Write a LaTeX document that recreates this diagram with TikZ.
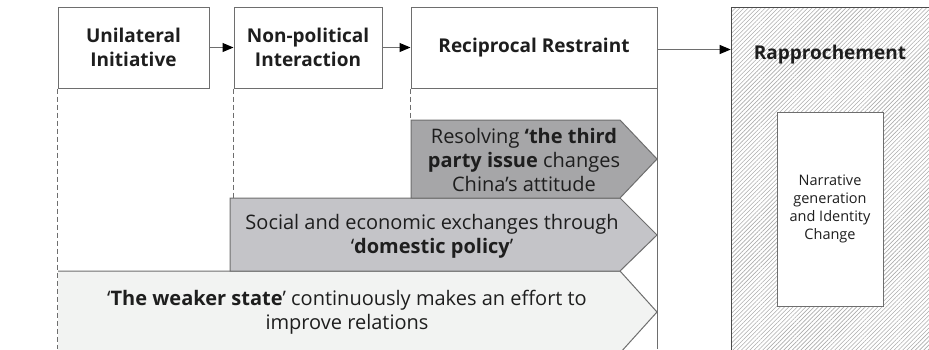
\documentclass[tikz,border=0pt]{standalone}
\usepackage{fontspec}
\setmainfont{Open Sans}
\usetikzlibrary{arrows.meta,patterns.meta}
\definecolor{thirdfill}{RGB}{166,166,168}
\definecolor{domesticfill}{RGB}{196,196,200}
\definecolor{weakerfill}{RGB}{242,243,242}
\definecolor{edge}{RGB}{110,110,110}
\definecolor{ink}{RGB}{30,30,30}

\begin{document}
\begin{tikzpicture}[x=1pt, y=-1pt, line width=1pt, text=ink,
  stage/.style={draw=edge, fill=white, minimum height=81pt, inner sep=0pt,
    align=center, font=\fontsize{19}{24}\selectfont\bfseries},
  phase/.style={draw=edge, line width=1pt},
  phasetext/.style={align=center, font=\fontsize{20}{24}\selectfont},
  flow/.style={edge, -{Triangle[length=11pt,width=9pt,color=black]}},
  guide/.style={edge, line width=0.8pt, dash pattern=on 5pt off 3pt}]
  \useasboundingbox (0,0) rectangle (929,349);
  \clip (0,0) rectangle (929,349);

  \node[stage, minimum width=151pt] (uni) at (133.5,47.5) {Unilateral\\Initiative};
  \node[stage, minimum width=148pt] (nonpol) at (308,47.5) {Non-political\\Interaction};
  \node[stage, minimum width=246pt] (recip) at (534,47.5) {Reciprocal Restraint};

  \node[draw=ink!80, minimum width=220pt, minimum height=344pt, inner sep=0pt,
    pattern={Lines[angle=45,distance=3pt,line width=0.6pt]}, pattern color=gray!65]
    (rapp) at (841,179) {};
  \node[font=\fontsize{19}{22}\selectfont\bfseries] (rapptitle) at (830,55) {Rapprochement};
  \node[draw=edge, fill=white, minimum width=106pt, minimum height=194pt, align=center,
    font=\fontsize{14.5}{18}\selectfont] (narr) at (830,209)
    {Narrative\\generation\\and Identity\\Change};

  \draw[flow] (uni) -- (nonpol);
  \draw[flow] (nonpol) -- (recip);
  \draw[flow] ([yshift=-2pt]recip.east) -- ([yshift=-2pt]rapp.west |- recip.east);

  \draw[phase, fill=weakerfill] (58,271) -- (620,271) -- (657,312) -- (620,353) -- (58,353);
  \draw[phase, fill=domesticfill] (230,198) -- (620,198) -- (657,235) -- (620,271) -- (230,271) -- cycle;
  \draw[phase, fill=thirdfill] (411,120) -- (620,120) -- (657,159) -- (620,198) -- (411,198) -- cycle;

  \draw[guide] (uni.south west) -- (uni.south west |- 0,349);
  \draw[guide] (nonpol.south west) -- (nonpol.south west |- 0,198);
  \draw[guide] (recip.south west) -- (recip.south west |- 0,120);
  \draw[edge] (recip.south east) -- (recip.south east |- 0,349);

  \node[phasetext] (third) at (524,160)
    {Resolving \textbf{‘the third}\\\textbf{party issue} changes\\China’s attitude};
  \node[phasetext] (domestic) at (432,236)
    {Social and economic exchanges through\\‘\textbf{domestic policy}’};
  \node[phasetext] (weaker) at (347,312)
    {‘\textbf{The weaker state}’ continuously makes an effort to\\improve relations};
\end{tikzpicture}
\end{document}
